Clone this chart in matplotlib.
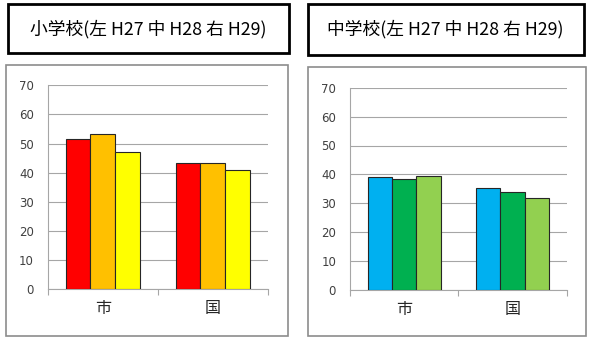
import numpy as np
import matplotlib.pyplot as plt
from matplotlib.patches import Rectangle

plt.rcParams['font.family'] = ['Noto Sans CJK JP', 'DejaVu Sans']

categories = ['市', '国']
years = ['H27', 'H28', 'H29']

elem_title = '小学校(左 H27 中 H28 右 H29)'
elem_values = [[51.5, 43.3],   # H27
               [53.4, 43.3],   # H28
               [47.0, 41.0]]   # H29
elem_colors = ['#FF0000', '#FFC000', '#FFFF00']

junior_title = '中学校(左 H27 中 H28 右 H29)'
junior_values = [[39.1, 35.3],
                 [38.5, 34.0],
                 [39.3, 31.8]]
junior_colors = ['#00B0F0', '#00B050', '#92D050']

W, H = 589, 338
fig = plt.figure(figsize=(W / 100, H / 100), dpi=100)


def px_rect(x0, y0, x1, y1, lw, ec):
    # pixel box (top-left origin) -> figure fraction rectangle
    fig.patches.append(Rectangle((x0 / W, 1 - y1 / H), (x1 - x0) / W, (y1 - y0) / H,
                                 transform=fig.transFigure, fill=False,
                                 lw=lw, ec=ec, zorder=0))


def panel(ax_box, frame, tbox, title, values, colors):
    px_rect(*frame, lw=1.2, ec='#8c8c8c')
    px_rect(*tbox, lw=2.0, ec='black')
    fig.text((tbox[0] + tbox[2]) / 2 / W, 1 - (tbox[1] + tbox[3]) / 2 / H, title,
             ha='center', va='center', fontsize=12.8, color='black')

    x0, y0, x1, y1 = ax_box
    ax = fig.add_axes([x0 / W, 1 - y1 / H, (x1 - x0) / W, (y1 - y0) / H])
    x = np.arange(len(categories))
    w = 0.225
    for i, (vals, c) in enumerate(zip(values, colors)):
        ax.bar(x + (i - 1) * w, vals, w, color=c, edgecolor='#262626', lw=0.8, zorder=3)
    ax.set_xlim(-0.5, 1.5)
    ax.set_ylim(0, 70)
    ax.set_yticks(range(0, 71, 10))
    ax.grid(axis='y', color='#a6a6a6', lw=0.8, zorder=0)
    for s in ['top', 'right']:
        ax.spines[s].set_visible(False)
    for s in ['left', 'bottom']:
        ax.spines[s].set_color('#a6a6a6')
        ax.spines[s].set_linewidth(0.8)
    ax.set_xticks(x)
    ax.set_xticklabels(categories, fontsize=11.5, color='#262626')
    ax.set_xticks([-0.5, 0.5, 1.5], minor=True)
    ax.tick_params(axis='x', which='major', length=0, pad=8)
    ax.tick_params(axis='x', which='minor', length=4.5, color='#a6a6a6', width=0.8)
    ax.tick_params(axis='y', length=0, pad=10, labelsize=8.5, labelcolor='#404040')
    for lab in ax.get_yticklabels():
        lab.set_family('DejaVu Sans')
    return ax


panel((47.7, 85.3, 267.7, 289), (6, 64.7, 287.7, 336), (8.3, 4, 288.7, 53.3),
      elem_title, elem_values, elem_colors)
panel((350, 87.7, 566.7, 290), (307.7, 67.3, 586, 336), (307.7, 4, 583.7, 55),
      junior_title, junior_values, junior_colors)

fig.savefig('out.png', dpi=100)
